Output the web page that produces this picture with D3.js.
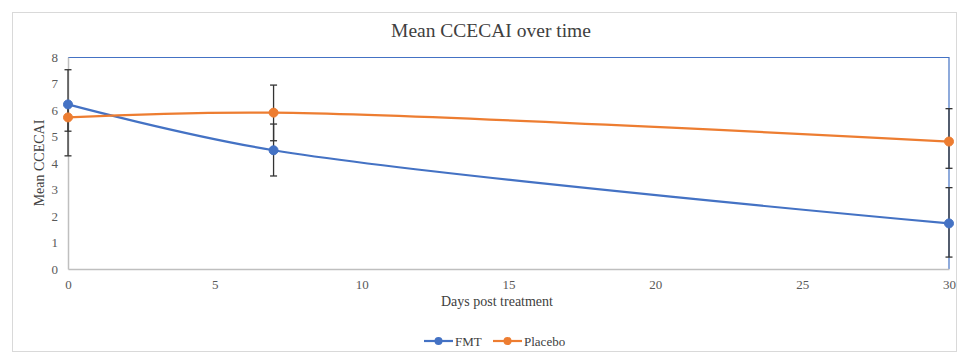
<!DOCTYPE html>
<html>
<head>
<meta charset="utf-8">
<script src="https://cdn.jsdelivr.net/npm/d3@7"></script>
<style>
  html, body { margin: 0; padding: 0; background: #fff; }
  svg { display: block; }
  text { font-family: "Liberation Serif", "Times New Roman", serif; }
</style>
</head>
<body>
<svg id="chart" width="972" height="360"></svg>
<script>
// ---- data ----
const days = [0, 7, 30];
const fmtMean = [6.21, 4.48, 1.72];
const fmtHigh = [7.52, 5.47, 3.07];
const fmtLow = [4.27, 3.51, 0.45];
const placeboMean = [5.72, 5.9, 4.81];
const placeboHigh = [6.21, 6.94, 6.05];
const placeboLow = [5.2, 4.84, 3.8];
const xTicks = [0, 5, 10, 15, 20, 25, 30];
const yTicks = [0, 1, 2, 3, 4, 5, 6, 7, 8];
const seriesNames = ["FMT", "Placebo"];
const seriesColors = ["#4472C4", "#ED7D31"];

(function () {
const series = [
  { name: seriesNames[0], color: seriesColors[0], mean: fmtMean, hi: fmtHigh, lo: fmtLow },
  { name: seriesNames[1], color: seriesColors[1], mean: placeboMean, hi: placeboHigh, lo: placeboLow }
];

const svg = d3.select("#chart");
const pLeft = 68, pRight = 949, pTop = 57, pBottom = 269;

const x = d3.scaleLinear().domain([0, 30]).range([pLeft, pRight]);
const y = d3.scaleLinear().domain([0, 8]).range([pBottom, pTop]);

// outer border
svg.append("rect").attr("x", 12.5).attr("y", 12.5).attr("width", 944).attr("height", 339)
  .attr("fill", "#fff").attr("stroke", "#D9D9D9").attr("stroke-width", 1);

// title
svg.append("text").attr("x", 491).attr("y", 37).attr("text-anchor", "middle")
  .attr("font-size", 19.5).attr("fill", "#404040").text("Mean CCECAI over time");

// plot frame: top and right blue
svg.append("line").attr("x1", pLeft).attr("x2", pRight).attr("y1", pTop + 0.5).attr("y2", pTop + 0.5)
  .attr("stroke", "#4472C4").attr("stroke-width", 1.2);
svg.append("line").attr("x1", pRight).attr("x2", pRight).attr("y1", pTop).attr("y2", pBottom)
  .attr("stroke", "#4472C4").attr("stroke-width", 1.2);

// axes
const xAxis = d3.axisBottom(x).tickValues(xTicks).tickSize(0).tickPadding(11).tickFormat(d3.format("d"));
const gx = svg.append("g").attr("transform", `translate(0,${pBottom})`).call(xAxis);
gx.select(".domain").attr("stroke", "#BFBFBF").attr("stroke-width", 1.5);
gx.selectAll("text").attr("font-size", 13).attr("fill", "#595959")
  .attr("font-family", "Liberation Serif, serif");

const yAxis = d3.axisLeft(y).tickValues(yTicks).tickSize(0).tickPadding(10).tickFormat(d3.format("d"));
const gy = svg.append("g").attr("transform", `translate(${pLeft},0)`).call(yAxis);
gy.select(".domain").attr("stroke", "#BFBFBF").attr("stroke-width", 1.5);
gy.selectAll("text").attr("font-size", 13).attr("fill", "#595959")
  .attr("font-family", "Liberation Serif, serif");

// axis titles
svg.append("text").attr("transform", `translate(44,${(pTop + pBottom) / 2}) rotate(-90)`)
  .attr("text-anchor", "middle").attr("font-size", 14).attr("fill", "#404040").text("Mean CCECAI");
svg.append("text").attr("x", 497).attr("y", 306).attr("text-anchor", "middle")
  .attr("font-size", 14).attr("fill", "#404040").text("Days post treatment");

// error bars
series.forEach(s => {
  const g = svg.append("g");
  days.forEach((d, i) => {
    const cx = x(d);
    g.append("line").attr("x1", cx).attr("x2", cx).attr("y1", y(s.hi[i])).attr("y2", y(s.lo[i]))
      .attr("stroke", "#333").attr("stroke-width", 1.3);
    [s.hi[i], s.lo[i]].forEach(v => {
      g.append("line").attr("x1", cx - 3.5).attr("x2", cx + 3.5).attr("y1", y(v)).attr("y2", y(v))
        .attr("stroke", "#333").attr("stroke-width", 1.3);
    });
  });
});

// lines
const line = d3.line().x(d => x(d[0])).y(d => y(d[1])).curve(d3.curveCatmullRom.alpha(0.5));
series.forEach(s => {
  const pts = days.map((d, i) => [d, s.mean[i]]);
  svg.append("path").datum(pts).attr("d", line).attr("fill", "none")
    .attr("stroke", s.color).attr("stroke-width", 2.2);
  svg.selectAll(null).data(pts).enter().append("circle")
    .attr("cx", d => x(d[0])).attr("cy", d => y(d[1])).attr("r", 4.5)
    .attr("fill", s.color).attr("stroke", s.color);
});

// legend
const legend = svg.append("g");
const legendX = [424, 493];
series.forEach((s, i) => {
  const lx = legendX[i], ly = 341;
  legend.append("line").attr("x1", lx).attr("x2", lx + 29).attr("y1", ly).attr("y2", ly)
    .attr("stroke", s.color).attr("stroke-width", 2.2);
  legend.append("circle").attr("cx", lx + 14.5).attr("cy", ly).attr("r", 4).attr("fill", s.color);
  legend.append("text").attr("x", lx + 31).attr("y", ly + 4.5).attr("font-size", 13)
    .attr("fill", "#404040").text(s.name);
});
})();
</script>
</body>
</html>
